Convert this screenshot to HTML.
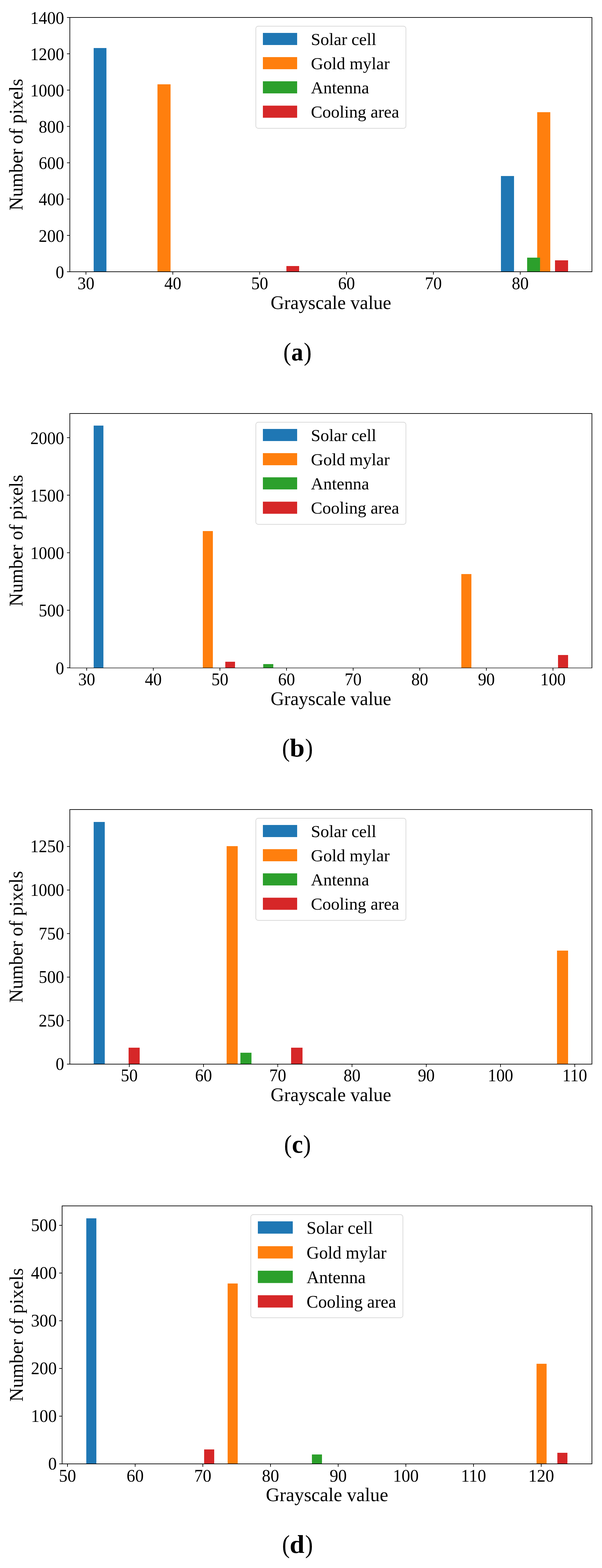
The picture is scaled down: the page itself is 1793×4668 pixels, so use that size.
<!DOCTYPE html>
<html><head><meta charset="utf-8"><title>Grayscale histograms</title>
<style>
html,body{margin:0;padding:0;background:#fff;}
body{width:1793px;height:4668px;overflow:hidden;}
svg{display:block;}
text{font-family:'Liberation Serif', 'Times New Roman', serif;fill:#000;}
</style></head><body>
<svg width="1793" height="4668" viewBox="0 0 1793 4668">
<rect width="1793" height="4668" fill="#fff"/>
<rect x="279" y="143" width="38" height="666" fill="#1f77b4"/>
<rect x="1492" y="524" width="39" height="285" fill="#1f77b4"/>
<rect x="469" y="251" width="39" height="558" fill="#ff7f0e"/>
<rect x="1600" y="334" width="39" height="475" fill="#ff7f0e"/>
<rect x="1570" y="767" width="38.5" height="42" fill="#2ca02c"/>
<rect x="853" y="792" width="38" height="17" fill="#d62728"/>
<rect x="1653" y="775" width="39" height="34" fill="#d62728"/>
<path d="M208 51V810M1763 51V810" stroke="#000" stroke-width="2" fill="none"/>
<path d="M207 52H1764" stroke="#000" stroke-width="2" fill="none"/>
<path d="M207 809H1764" stroke="#000" stroke-width="2" fill="none"/>
<line x1="256" y1="809" x2="256" y2="817.5" stroke="#000" stroke-width="2"/>
<text transform="translate(256 861) scale(0.97 1)" text-anchor="middle" font-size="52">30</text>
<line x1="514.7" y1="809" x2="514.7" y2="817.5" stroke="#000" stroke-width="2"/>
<text transform="translate(514.7 861) scale(0.97 1)" text-anchor="middle" font-size="52">40</text>
<line x1="773.4" y1="809" x2="773.4" y2="817.5" stroke="#000" stroke-width="2"/>
<text transform="translate(773.4 861) scale(0.97 1)" text-anchor="middle" font-size="52">50</text>
<line x1="1032.1" y1="809" x2="1032.1" y2="817.5" stroke="#000" stroke-width="2"/>
<text transform="translate(1032.1 861) scale(0.97 1)" text-anchor="middle" font-size="52">60</text>
<line x1="1290.8" y1="809" x2="1290.8" y2="817.5" stroke="#000" stroke-width="2"/>
<text transform="translate(1290.8 861) scale(0.97 1)" text-anchor="middle" font-size="52">70</text>
<line x1="1549.5" y1="809" x2="1549.5" y2="817.5" stroke="#000" stroke-width="2"/>
<text transform="translate(1549.5 861) scale(0.97 1)" text-anchor="middle" font-size="52">80</text>
<line x1="199.5" y1="809" x2="208" y2="809" stroke="#000" stroke-width="2"/>
<text transform="translate(191 827.7) scale(0.97 1)" text-anchor="end" font-size="52">0</text>
<line x1="199.5" y1="700.86" x2="208" y2="700.86" stroke="#000" stroke-width="2"/>
<text transform="translate(191 719.56) scale(0.97 1)" text-anchor="end" font-size="52">200</text>
<line x1="199.5" y1="592.71" x2="208" y2="592.71" stroke="#000" stroke-width="2"/>
<text transform="translate(191 611.41) scale(0.97 1)" text-anchor="end" font-size="52">400</text>
<line x1="199.5" y1="484.57" x2="208" y2="484.57" stroke="#000" stroke-width="2"/>
<text transform="translate(191 503.27) scale(0.97 1)" text-anchor="end" font-size="52">600</text>
<line x1="199.5" y1="376.43" x2="208" y2="376.43" stroke="#000" stroke-width="2"/>
<text transform="translate(191 395.13) scale(0.97 1)" text-anchor="end" font-size="52">800</text>
<line x1="199.5" y1="268.29" x2="208" y2="268.29" stroke="#000" stroke-width="2"/>
<text transform="translate(191 286.99) scale(0.97 1)" text-anchor="end" font-size="52">1000</text>
<line x1="199.5" y1="160.14" x2="208" y2="160.14" stroke="#000" stroke-width="2"/>
<text transform="translate(191 178.84) scale(0.97 1)" text-anchor="end" font-size="52">1200</text>
<line x1="199.5" y1="52" x2="208" y2="52" stroke="#000" stroke-width="2"/>
<text transform="translate(191 70.7) scale(0.97 1)" text-anchor="end" font-size="52">1400</text>
<rect x="762" y="78" width="447" height="304" rx="7" fill="#fff" fill-opacity="0.8" stroke="#d6d6d6" stroke-width="1.9"/>
<rect x="783" y="98" width="102" height="36" fill="#1f77b4"/>
<text x="926" y="133.5" font-size="51.2">Solar cell</text>
<rect x="783" y="170" width="102" height="36" fill="#ff7f0e"/>
<text x="926" y="205.5" font-size="51.2">Gold mylar</text>
<rect x="783" y="242" width="102" height="36" fill="#2ca02c"/>
<text x="926" y="277.5" font-size="51.2">Antenna</text>
<rect x="783" y="314.5" width="102" height="36" fill="#d62728"/>
<text x="926" y="350" font-size="51.2">Cooling area</text>
<text x="985.5" y="919.5" text-anchor="middle" font-size="56">Grayscale value</text>
<text transform="translate(67.3 430.5) rotate(-90)" text-anchor="middle" font-size="56">Number of pixels</text>
<text transform="translate(843.82 1073.2) scale(0.915 1)" font-size="76.5">(</text>
<text transform="translate(867.51 1073.2) scale(0.93 1)" font-size="76.5" font-weight="bold">a</text>
<text transform="translate(904.84 1073.2) scale(0.915 1)" font-size="76.5">)</text>
<rect x="279" y="1267" width="29" height="721" fill="#1f77b4"/>
<rect x="604" y="1581" width="30" height="407" fill="#ff7f0e"/>
<rect x="1374" y="1709" width="30" height="279" fill="#ff7f0e"/>
<rect x="784" y="1977" width="30" height="11" fill="#2ca02c"/>
<rect x="671" y="1970" width="29" height="18" fill="#d62728"/>
<rect x="1662" y="1950" width="30" height="38" fill="#d62728"/>
<path d="M208 1230V1989M1763 1230V1989" stroke="#000" stroke-width="2" fill="none"/>
<path d="M207 1231H1764" stroke="#000" stroke-width="2" fill="none"/>
<path d="M207 1988.5H1764" stroke="#000" stroke-width="1.6" fill="none"/>
<line x1="258.2" y1="1988" x2="258.2" y2="1996.5" stroke="#000" stroke-width="2"/>
<text transform="translate(258.2 2040) scale(0.97 1)" text-anchor="middle" font-size="52">30</text>
<line x1="456.6" y1="1988" x2="456.6" y2="1996.5" stroke="#000" stroke-width="2"/>
<text transform="translate(456.6 2040) scale(0.97 1)" text-anchor="middle" font-size="52">40</text>
<line x1="655" y1="1988" x2="655" y2="1996.5" stroke="#000" stroke-width="2"/>
<text transform="translate(655 2040) scale(0.97 1)" text-anchor="middle" font-size="52">50</text>
<line x1="853.4" y1="1988" x2="853.4" y2="1996.5" stroke="#000" stroke-width="2"/>
<text transform="translate(853.4 2040) scale(0.97 1)" text-anchor="middle" font-size="52">60</text>
<line x1="1051.8" y1="1988" x2="1051.8" y2="1996.5" stroke="#000" stroke-width="2"/>
<text transform="translate(1051.8 2040) scale(0.97 1)" text-anchor="middle" font-size="52">70</text>
<line x1="1250.2" y1="1988" x2="1250.2" y2="1996.5" stroke="#000" stroke-width="2"/>
<text transform="translate(1250.2 2040) scale(0.97 1)" text-anchor="middle" font-size="52">80</text>
<line x1="1448.6" y1="1988" x2="1448.6" y2="1996.5" stroke="#000" stroke-width="2"/>
<text transform="translate(1448.6 2040) scale(0.97 1)" text-anchor="middle" font-size="52">90</text>
<line x1="1647" y1="1988" x2="1647" y2="1996.5" stroke="#000" stroke-width="2"/>
<text transform="translate(1647 2040) scale(0.97 1)" text-anchor="middle" font-size="52">100</text>
<line x1="199.5" y1="1988" x2="208" y2="1988" stroke="#000" stroke-width="2"/>
<text transform="translate(191 2006.7) scale(0.97 1)" text-anchor="end" font-size="52">0</text>
<line x1="199.5" y1="1816.72" x2="208" y2="1816.72" stroke="#000" stroke-width="2"/>
<text transform="translate(191 1835.42) scale(0.97 1)" text-anchor="end" font-size="52">500</text>
<line x1="199.5" y1="1645.45" x2="208" y2="1645.45" stroke="#000" stroke-width="2"/>
<text transform="translate(191 1664.15) scale(0.97 1)" text-anchor="end" font-size="52">1000</text>
<line x1="199.5" y1="1474.18" x2="208" y2="1474.18" stroke="#000" stroke-width="2"/>
<text transform="translate(191 1492.88) scale(0.97 1)" text-anchor="end" font-size="52">1500</text>
<line x1="199.5" y1="1302.9" x2="208" y2="1302.9" stroke="#000" stroke-width="2"/>
<text transform="translate(191 1321.6) scale(0.97 1)" text-anchor="end" font-size="52">2000</text>
<rect x="762" y="1257" width="447" height="304" rx="7" fill="#fff" fill-opacity="0.8" stroke="#d6d6d6" stroke-width="1.9"/>
<rect x="783" y="1277" width="102" height="36" fill="#1f77b4"/>
<text x="926" y="1312.5" font-size="51.2">Solar cell</text>
<rect x="783" y="1349" width="102" height="36" fill="#ff7f0e"/>
<text x="926" y="1384.5" font-size="51.2">Gold mylar</text>
<rect x="783" y="1421" width="102" height="36" fill="#2ca02c"/>
<text x="926" y="1456.5" font-size="51.2">Antenna</text>
<rect x="783" y="1493.5" width="102" height="36" fill="#d62728"/>
<text x="926" y="1529" font-size="51.2">Cooling area</text>
<text x="985.5" y="2098.5" text-anchor="middle" font-size="56">Grayscale value</text>
<text transform="translate(67.3 1609.5) rotate(-90)" text-anchor="middle" font-size="56">Number of pixels</text>
<text transform="translate(840.02 2252.3) scale(0.915 1)" font-size="76.5">(</text>
<text transform="translate(862.89 2252.3) scale(1.04 1)" font-size="76.5" font-weight="bold">b</text>
<text transform="translate(908.64 2252.3) scale(0.915 1)" font-size="76.5">)</text>
<rect x="279" y="2447" width="33" height="721" fill="#1f77b4"/>
<rect x="675" y="2519" width="33" height="649" fill="#ff7f0e"/>
<rect x="1659" y="2830" width="33" height="338" fill="#ff7f0e"/>
<rect x="716" y="3134" width="33" height="34" fill="#2ca02c"/>
<rect x="383" y="3119" width="33" height="49" fill="#d62728"/>
<rect x="867" y="3119" width="34" height="49" fill="#d62728"/>
<path d="M208 2409V3169M1763 2409V3169" stroke="#000" stroke-width="2" fill="none"/>
<path d="M207 2410H1764" stroke="#000" stroke-width="2" fill="none"/>
<path d="M207 3168H1764" stroke="#000" stroke-width="2" fill="none"/>
<line x1="385" y1="3168" x2="385" y2="3176.5" stroke="#000" stroke-width="2"/>
<text transform="translate(385 3219.3) scale(0.97 1)" text-anchor="middle" font-size="52">50</text>
<line x1="606.15" y1="3168" x2="606.15" y2="3176.5" stroke="#000" stroke-width="2"/>
<text transform="translate(606.15 3219.3) scale(0.97 1)" text-anchor="middle" font-size="52">60</text>
<line x1="827.3" y1="3168" x2="827.3" y2="3176.5" stroke="#000" stroke-width="2"/>
<text transform="translate(827.3 3219.3) scale(0.97 1)" text-anchor="middle" font-size="52">70</text>
<line x1="1048.45" y1="3168" x2="1048.45" y2="3176.5" stroke="#000" stroke-width="2"/>
<text transform="translate(1048.45 3219.3) scale(0.97 1)" text-anchor="middle" font-size="52">80</text>
<line x1="1269.6" y1="3168" x2="1269.6" y2="3176.5" stroke="#000" stroke-width="2"/>
<text transform="translate(1269.6 3219.3) scale(0.97 1)" text-anchor="middle" font-size="52">90</text>
<line x1="1490.75" y1="3168" x2="1490.75" y2="3176.5" stroke="#000" stroke-width="2"/>
<text transform="translate(1490.75 3219.3) scale(0.97 1)" text-anchor="middle" font-size="52">100</text>
<line x1="1711.9" y1="3168" x2="1711.9" y2="3176.5" stroke="#000" stroke-width="2"/>
<text transform="translate(1711.9 3219.3) scale(0.97 1)" text-anchor="middle" font-size="52">110</text>
<line x1="199.5" y1="3168" x2="208" y2="3168" stroke="#000" stroke-width="2"/>
<text transform="translate(191 3185.3) scale(0.97 1)" text-anchor="end" font-size="52">0</text>
<line x1="199.5" y1="3038.42" x2="208" y2="3038.42" stroke="#000" stroke-width="2"/>
<text transform="translate(191 3055.72) scale(0.97 1)" text-anchor="end" font-size="52">250</text>
<line x1="199.5" y1="2908.84" x2="208" y2="2908.84" stroke="#000" stroke-width="2"/>
<text transform="translate(191 2926.14) scale(0.97 1)" text-anchor="end" font-size="52">500</text>
<line x1="199.5" y1="2779.26" x2="208" y2="2779.26" stroke="#000" stroke-width="2"/>
<text transform="translate(191 2796.56) scale(0.97 1)" text-anchor="end" font-size="52">750</text>
<line x1="199.5" y1="2649.68" x2="208" y2="2649.68" stroke="#000" stroke-width="2"/>
<text transform="translate(191 2666.98) scale(0.97 1)" text-anchor="end" font-size="52">1000</text>
<line x1="199.5" y1="2520.1" x2="208" y2="2520.1" stroke="#000" stroke-width="2"/>
<text transform="translate(191 2537.4) scale(0.97 1)" text-anchor="end" font-size="52">1250</text>
<rect x="762" y="2436" width="447" height="304" rx="7" fill="#fff" fill-opacity="0.8" stroke="#d6d6d6" stroke-width="1.9"/>
<rect x="783" y="2456" width="102" height="36" fill="#1f77b4"/>
<text x="926" y="2491.5" font-size="51.2">Solar cell</text>
<rect x="783" y="2528" width="102" height="36" fill="#ff7f0e"/>
<text x="926" y="2563.5" font-size="51.2">Gold mylar</text>
<rect x="783" y="2600" width="102" height="36" fill="#2ca02c"/>
<text x="926" y="2635.5" font-size="51.2">Antenna</text>
<rect x="783" y="2672.5" width="102" height="36" fill="#d62728"/>
<text x="926" y="2708" font-size="51.2">Cooling area</text>
<text x="985.5" y="3277.5" text-anchor="middle" font-size="56">Grayscale value</text>
<text transform="translate(67.3 2789) rotate(-90)" text-anchor="middle" font-size="56">Number of pixels</text>
<text transform="translate(845.92 3431.6) scale(0.915 1)" font-size="76.5">(</text>
<text transform="translate(869.47 3431.6) scale(0.966 1)" font-size="76.5" font-weight="bold">c</text>
<text transform="translate(902.64 3431.6) scale(0.915 1)" font-size="76.5">)</text>
<rect x="257" y="3627" width="30" height="731" fill="#1f77b4"/>
<rect x="678" y="3821" width="30" height="537" fill="#ff7f0e"/>
<rect x="1598" y="4060" width="30" height="298" fill="#ff7f0e"/>
<rect x="929" y="4330" width="30" height="28" fill="#2ca02c"/>
<rect x="608" y="4315" width="30" height="43" fill="#d62728"/>
<rect x="1660" y="4325" width="30" height="33" fill="#d62728"/>
<path d="M185 3588.99V4359.01M1763 3588.99V4359.01" stroke="#000" stroke-width="2.03" fill="none"/>
<path d="M183.99 3590H1764.01" stroke="#000" stroke-width="2.03" fill="none"/>
<path d="M183.99 4358H1764.01" stroke="#000" stroke-width="2.03" fill="none"/>
<line x1="201" y1="4358" x2="201" y2="4366.62" stroke="#000" stroke-width="2.03"/>
<text transform="translate(201 4410.76) scale(0.97 1)" text-anchor="middle" font-size="52.76">50</text>
<line x1="402.56" y1="4358" x2="402.56" y2="4366.62" stroke="#000" stroke-width="2.03"/>
<text transform="translate(402.56 4410.76) scale(0.97 1)" text-anchor="middle" font-size="52.76">60</text>
<line x1="604.12" y1="4358" x2="604.12" y2="4366.62" stroke="#000" stroke-width="2.03"/>
<text transform="translate(604.12 4410.76) scale(0.97 1)" text-anchor="middle" font-size="52.76">70</text>
<line x1="805.68" y1="4358" x2="805.68" y2="4366.62" stroke="#000" stroke-width="2.03"/>
<text transform="translate(805.68 4410.76) scale(0.97 1)" text-anchor="middle" font-size="52.76">80</text>
<line x1="1007.24" y1="4358" x2="1007.24" y2="4366.62" stroke="#000" stroke-width="2.03"/>
<text transform="translate(1007.24 4410.76) scale(0.97 1)" text-anchor="middle" font-size="52.76">90</text>
<line x1="1208.8" y1="4358" x2="1208.8" y2="4366.62" stroke="#000" stroke-width="2.03"/>
<text transform="translate(1208.8 4410.76) scale(0.97 1)" text-anchor="middle" font-size="52.76">100</text>
<line x1="1410.36" y1="4358" x2="1410.36" y2="4366.62" stroke="#000" stroke-width="2.03"/>
<text transform="translate(1410.36 4410.76) scale(0.97 1)" text-anchor="middle" font-size="52.76">110</text>
<line x1="1611.92" y1="4358" x2="1611.92" y2="4366.62" stroke="#000" stroke-width="2.03"/>
<text transform="translate(1611.92 4410.76) scale(0.97 1)" text-anchor="middle" font-size="52.76">120</text>
<line x1="176.38" y1="4358" x2="185" y2="4358" stroke="#000" stroke-width="2.03"/>
<text transform="translate(169 4375.4) scale(0.97 1)" text-anchor="end" font-size="52.76">0</text>
<line x1="176.38" y1="4215.98" x2="185" y2="4215.98" stroke="#000" stroke-width="2.03"/>
<text transform="translate(169 4233.38) scale(0.97 1)" text-anchor="end" font-size="52.76">100</text>
<line x1="176.38" y1="4073.96" x2="185" y2="4073.96" stroke="#000" stroke-width="2.03"/>
<text transform="translate(169 4091.36) scale(0.97 1)" text-anchor="end" font-size="52.76">200</text>
<line x1="176.38" y1="3931.94" x2="185" y2="3931.94" stroke="#000" stroke-width="2.03"/>
<text transform="translate(169 3949.34) scale(0.97 1)" text-anchor="end" font-size="52.76">300</text>
<line x1="176.38" y1="3789.92" x2="185" y2="3789.92" stroke="#000" stroke-width="2.03"/>
<text transform="translate(169 3807.32) scale(0.97 1)" text-anchor="end" font-size="52.76">400</text>
<line x1="176.38" y1="3647.9" x2="185" y2="3647.9" stroke="#000" stroke-width="2.03"/>
<text transform="translate(169 3665.3) scale(0.97 1)" text-anchor="end" font-size="52.76">500</text>
<rect x="747" y="3616" width="453" height="307" rx="7.1" fill="#fff" fill-opacity="0.8" stroke="#d6d6d6" stroke-width="1.93"/>
<rect x="768" y="3636" width="104" height="36.6" fill="#1f77b4"/>
<text x="913" y="3673.3" font-size="51.95">Solar cell</text>
<rect x="768" y="3710" width="104" height="36.6" fill="#ff7f0e"/>
<text x="913" y="3747.3" font-size="51.95">Gold mylar</text>
<rect x="768" y="3783" width="104" height="36.6" fill="#2ca02c"/>
<text x="913" y="3820.3" font-size="51.95">Antenna</text>
<rect x="768" y="3856" width="104" height="36.6" fill="#d62728"/>
<text x="913" y="3893.3" font-size="51.95">Cooling area</text>
<text x="974" y="4468.5" text-anchor="middle" font-size="56.82">Grayscale value</text>
<text transform="translate(68 3974) rotate(-90)" text-anchor="middle" font-size="56.82">Number of pixels</text>
<text transform="translate(840.02 4623.2) scale(0.915 1)" font-size="76.5">(</text>
<text transform="translate(862.79 4623.2) scale(1.034 1)" font-size="76.5" font-weight="bold">d</text>
<text transform="translate(908.74 4623.2) scale(0.915 1)" font-size="76.5">)</text>
</svg>
</body></html>
